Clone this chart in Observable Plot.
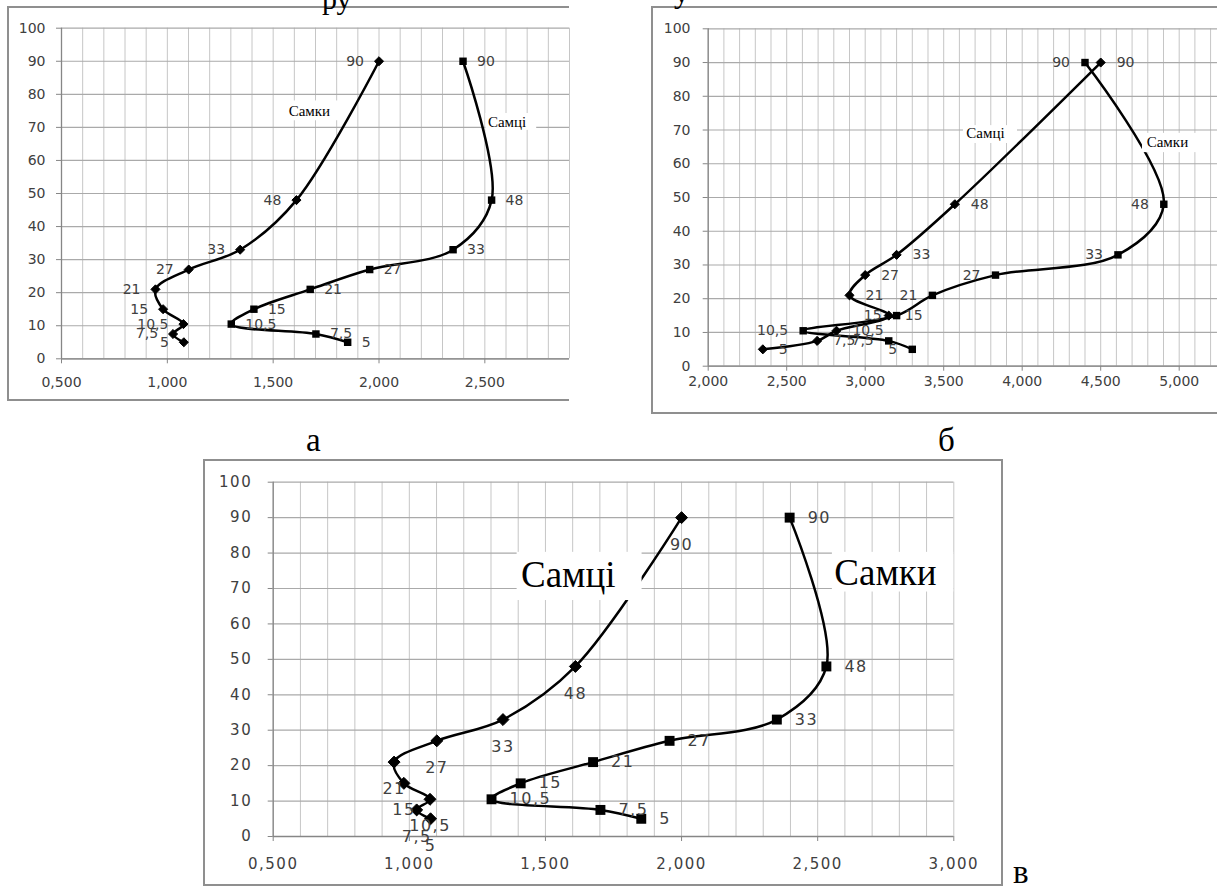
<!DOCTYPE html>
<html><head><meta charset="utf-8">
<script src="https://cdn.jsdelivr.net/npm/d3@7"></script>
<script src="https://cdn.jsdelivr.net/npm/@observablehq/plot@0.6"></script>
<style>
body{margin:0;background:#fff;}
#root{position:relative;width:1217px;height:886px;overflow:hidden;background:#fff;}
.panel{position:absolute;}
.box{position:absolute;box-sizing:border-box;border:2px solid #8f8f8f;pointer-events:none;}
.cap{position:absolute;font-family:"Liberation Serif","Times New Roman",serif;font-size:33px;line-height:0.8;color:#000;white-space:nowrap;}
#pv text{letter-spacing:1.5px;}
#pv g[font-family="Liberation Serif"] text{letter-spacing:0;}
</style></head><body><div id="root"></div>
<script>
// depth levels (labels on points)
const depth = [5, 7.5, 10.5, 15, 21, 27, 33, 48, 90];
const depthLabels = ["5", "7,5", "10,5", "15", "21", "27", "33", "48", "90"];
// panel а and в: diamond series and square series
const aDiamond = [1.078, 1.027, 1.076, 0.980, 0.944, 1.101, 1.344, 1.610, 2.000];
const aSquare  = [1.852, 1.702, 1.302, 1.409, 1.675, 1.956, 2.350, 2.532, 2.397];
// panel б
const bDiamond = [2.348, 2.694, 2.817, 3.150, 2.900, 3.000, 3.200, 3.571, 4.500];
const bSquare  = [3.300, 3.150, 2.605, 3.200, 3.428, 3.830, 4.610, 4.902, 4.400];
// tick values
const yTicks = [0, 10, 20, 30, 40, 50, 60, 70, 80, 90, 100];
const aXTicks = [0.5, 1.0, 1.5, 2.0, 2.5];
const bXTicks = [2.0, 2.5, 3.0, 3.5, 4.0, 4.5, 5.0];
const vXTicks = [0.5, 1.0, 1.5, 2.0, 2.5, 3.0];
// series name annotations
const aNotes = [
  {text: "Самки", x: 1.671, y: 74.8, x1: 1.545, x2: 1.815, y1: 72.0, y2: 78.0},
  {text: "Самці", x: 2.605, y: 71.6, x1: 2.505, x2: 2.745, y1: 69.1, y2: 74.2}
];
const bNotes = [
  {text: "Самці", x: 3.766, y: 69.0, x1: 3.626, x2: 3.970, y1: 66.0, y2: 71.3},
  {text: "Самки", x: 4.925, y: 66.4, x1: 4.766, x2: 5.116, y1: 63.3, y2: 69.0}
];
const vNotes = [
  {text: "Самці", x: 1.584, y: 73.9, x1: 1.396, x2: 1.855, y1: 66.6, y2: 80.2},
  {text: "Самки", x: 2.749, y: 74.2, x1: 2.554, x2: 3.000, y1: 69.0, y2: 80.2}
];

const fmt = d => d.toFixed(3).replace(".", ",");
const rows = xs => depth.map((y, i) => ({x: xs[i], y, label: depthLabels[i]}));
const range10 = (a, b) => d3.range(a, b + 1).map(i => i / 10);

const root = document.getElementById("root");

function makePanel(c) {
  const dia = rows(c.diamond), sq = rows(c.square);
  const chart = Plot.plot({
    width: c.width, height: c.height,
    marginLeft: c.ml, marginRight: c.mr, marginTop: c.mt, marginBottom: c.mb,
    x: {domain: c.xDomain, label: null},
    y: {domain: [0, 100], label: null},
    style: {fontFamily: "DejaVu Sans", fontSize: c.tickSize + "px", background: "transparent", overflow: "visible"},
    marks: [
      Plot.gridX({ticks: c.gridX, stroke: "#c6c6c6", strokeOpacity: 1, strokeWidth: 1}),
      Plot.gridY({ticks: yTicks, stroke: "#aaaaaa", strokeOpacity: 1, strokeWidth: 1.2}),
      Plot.ruleX([c.xDomain[0]], {stroke: "#868686", strokeWidth: 1.3}),
      Plot.ruleY([0], {stroke: "#868686", strokeWidth: 1.3}),
      Plot.axisX({ticks: c.xTicks, tickFormat: fmt, tickSize: 5, tickPadding: c.xPad, stroke: "#868686", fill: "#404040"}),
      Plot.axisY({ticks: yTicks, tickSize: 5, tickPadding: c.yPad, stroke: "#868686", fill: "#404040"}),
      Plot.line(dia, {x: "x", y: "y", curve: "catmull-rom", stroke: "black", strokeWidth: 2.5}),
      Plot.line(sq, {x: "x", y: "y", curve: "catmull-rom", stroke: "black", strokeWidth: 2.5}),
      Plot.dot(dia, {x: "x", y: "y", symbol: "diamond2", r: c.rd, fill: "black", stroke: "black", strokeWidth: 1}),
      Plot.dot(sq, {x: "x", y: "y", symbol: "square", r: c.rs, fill: "black", stroke: "none"}),
      Plot.text(dia, {x: "x", y: "y", text: "label", fill: "#404040", fontSize: c.labelSize, ...c.diaLab}),
      Plot.text(sq, {x: "x", y: "y", text: "label", fill: "#404040", fontSize: c.labelSize, ...c.sqLab}),
      Plot.rect(c.notes, {x1: "x1", x2: "x2", y1: "y1", y2: "y2", fill: "white"}),
      Plot.text(c.notes, {x: "x", y: "y", text: "text", fontFamily: "Liberation Serif", fontSize: c.noteSize, fill: "black"})
    ]
  });
  const div = document.createElement("div");
  div.className = "panel";
  if (c.id) div.id = c.id;
  div.style.left = c.left + "px";
  div.style.top = c.top + "px";
  div.appendChild(chart);
  root.appendChild(div);
}

function addBox(l, t, w, h, sides) {
  const b = document.createElement("div");
  b.className = "box";
  Object.assign(b.style, {left: l + "px", top: t + "px", width: w + "px", height: h + "px"});
  if (sides) Object.assign(b.style, sides);
  root.appendChild(b);
}
function addCap(txt, l, t, size) {
  const d = document.createElement("div");
  d.className = "cap";
  d.textContent = txt;
  Object.assign(d.style, {left: l + "px", top: t + "px"});
  if (size) d.style.fontSize = size + "px";
  root.appendChild(d);
}

// panel а
makePanel({
  left: 8, top: 7, width: 561, height: 393, ml: 53, mr: 0, mt: 20.7, mb: 41.7,
  xDomain: [0.5, 2.9], xTicks: aXTicks, gridX: range10(5, 29), xPad: 13.6, yPad: 11, tickSize: 14,
  diamond: aDiamond, square: aSquare, rd: 4.1, rs: 4.2, labelSize: 14,
  diaLab: {textAnchor: "end", dx: -15}, sqLab: {textAnchor: "start", dx: 14},
  notes: aNotes, noteSize: 15
});
addBox(7, 6, 562, 395, {borderRight: "none"});

// panel б
makePanel({
  left: 652, top: 7, width: 565, height: 406, ml: 55.7, mr: 0, mt: 21.3, mb: 47.3,
  xDomain: [2, 5.244], xTicks: bXTicks, gridX: range10(20, 52), xPad: 4.4, yPad: 12.7, tickSize: 14,
  diamond: bDiamond, square: bSquare, rd: 4.1, rs: 4.2, labelSize: 14,
  diaLab: {textAnchor: "start", dx: 16}, sqLab: {textAnchor: "end", dx: -15},
  notes: bNotes, noteSize: 15
});
addBox(651, 6, 580, 408, {borderRight: "none"});

// panel в
makePanel({
  id: "pv",
  left: 203, top: 459, width: 799, height: 426, ml: 69.7, mr: 48.7, mt: 22.7, mb: 49,
  xDomain: [0.5, 3.0], xTicks: vXTicks, gridX: range10(5, 30), xPad: 16.4, yPad: 16, tickSize: 15,
  diamond: aDiamond, square: aSquare, rd: 5.4, rs: 5.6, labelSize: 16,
  diaLab: {textAnchor: "middle", dy: 27}, sqLab: {textAnchor: "start", dx: 18},
  notes: vNotes, noteSize: 37
});
addBox(203, 459, 800, 427);

// captions and cropped text
addCap("а", 306, 426.7);
addCap("б", 938, 426.7);
addCap("в", 1013, 858.7);
addCap("ру", 322, -13.5, 30);
addCap("у", 674, -19, 30);
</script></body></html>
